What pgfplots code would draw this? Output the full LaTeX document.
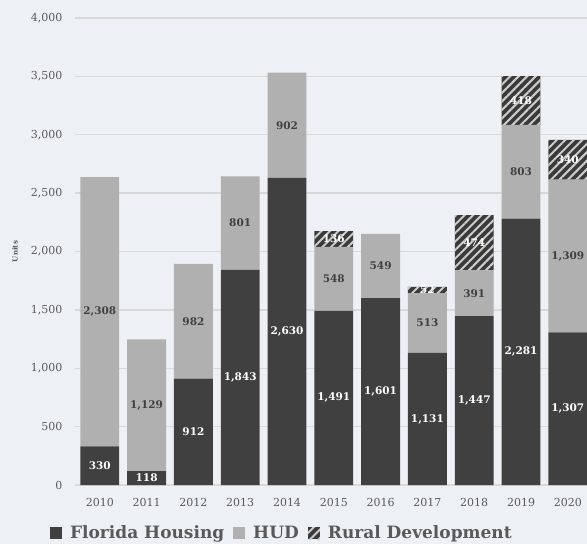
\documentclass[border=0pt]{standalone}
\usepackage{fontspec}
\setmainfont{DejaVu Serif}
\usepackage{pgfplots}
\pgfplotsset{compat=1.18}
\usepackage{pgfplotstable}
\usetikzlibrary{patterns.meta}

\definecolor{bg}{RGB}{237,241,246}
\definecolor{fhc}{RGB}{64,64,64}
\definecolor{hudc}{RGB}{176,176,176}
\definecolor{rdc}{RGB}{58,58,58}
\definecolor{rdl}{RGB}{205,205,205}
\definecolor{gridc}{RGB}{217,217,217}
\definecolor{txt}{RGB}{89,89,89}

\pgfplotstableread{
x fh hud rd
0 330 2308 0
1 118 1129 0
2 912 982 0
3 1843 801 0
4 2630 902 0
5 1491 548 136
6 1601 549 0
7 1131 513 52
8 1447 391 474
9 2281 803 418
10 1307 1309 340
}\data

\pgfplotsset{
  mylegend/.style={legend image code/.code={\path[##1,draw=none] (0pt,-6pt) rectangle (12pt,6pt);}},
  seglabel/.style={
    point meta=explicit,
    nodes near coords={\pgfmathfloatifflags{\pgfplotspointmeta}{0}{}{\pgfmathprintnumber{\pgfplotspointmeta}}},
    every node near coord/.append style={anchor=center, font=\fontsize{10.5}{12}\selectfont\bfseries},
  },
}

\begin{document}
\begin{tikzpicture}
\useasboundingbox (-75pt,-59pt) rectangle (512pt,485pt);
\fill[bg] (-75pt,-59pt) rectangle (512pt,485pt);
\clip (-75pt,-59pt) rectangle (512pt,485pt);
\begin{axis}[
  at={(0pt,0pt)}, anchor=south west,
  scale only axis, width=512pt, height=467pt,
  ymin=0, ymax=4000, xmin=-0.53, xmax=10.41,
  ybar stacked, bar width=0.83,
  axis line style={draw=none},
  major tick length=0pt,
  ymajorgrids, grid style={gridc, line width=1.3pt},
  ytick={0,500,...,4000},
  xtick={0,...,10},
  xticklabels={2010,2011,2012,2013,2014,2015,2016,2017,2018,2019,2020},
  tick label style={font=\fontsize{11}{13}\selectfont, text=txt},
  xticklabel style={yshift=-10pt},
  yticklabel style={xshift=-9pt},
  /pgf/number format/1000 sep={,},
  /pgf/number format/assume math mode=true,
  ylabel={Units},
  ylabel style={at={(axis description cs:-0.117,0.5)}, anchor=center, font=\fontsize{7}{8}\selectfont\bfseries, text=txt},
  legend style={at={(-0.049,-0.103)}, anchor=west, draw=none, fill=none,
    inner sep=0pt, font=\fontsize{17}{20}\selectfont\bfseries, text=txt,
    /tikz/every odd column/.append style={column sep=6pt},
    /tikz/every even column/.append style={column sep=7pt}},
  legend columns=-1,
]
\addplot[fill=fhc, draw=none, mylegend, seglabel,
  every node near coord/.append style={text=white}]
  table[x=x, y=fh, meta=fh]{\data};
\addlegendentry{Florida Housing}
\addplot[fill=hudc, draw=none, mylegend, seglabel,
  every node near coord/.append style={text=fhc}]
  table[x=x, y=hud, meta=hud]{\data};
\addlegendentry{HUD}
\addplot[fill=rdc, draw=none, mylegend,
  postaction={pattern={Lines[angle=45,distance=6pt,line width=2pt]}, pattern color=rdl},
  seglabel,
  every node near coord/.append style={text=white}]
  table[x=x, y=rd, meta=rd]{\data};
\addlegendentry{Rural Development}
\end{axis}
\end{tikzpicture}
\end{document}
